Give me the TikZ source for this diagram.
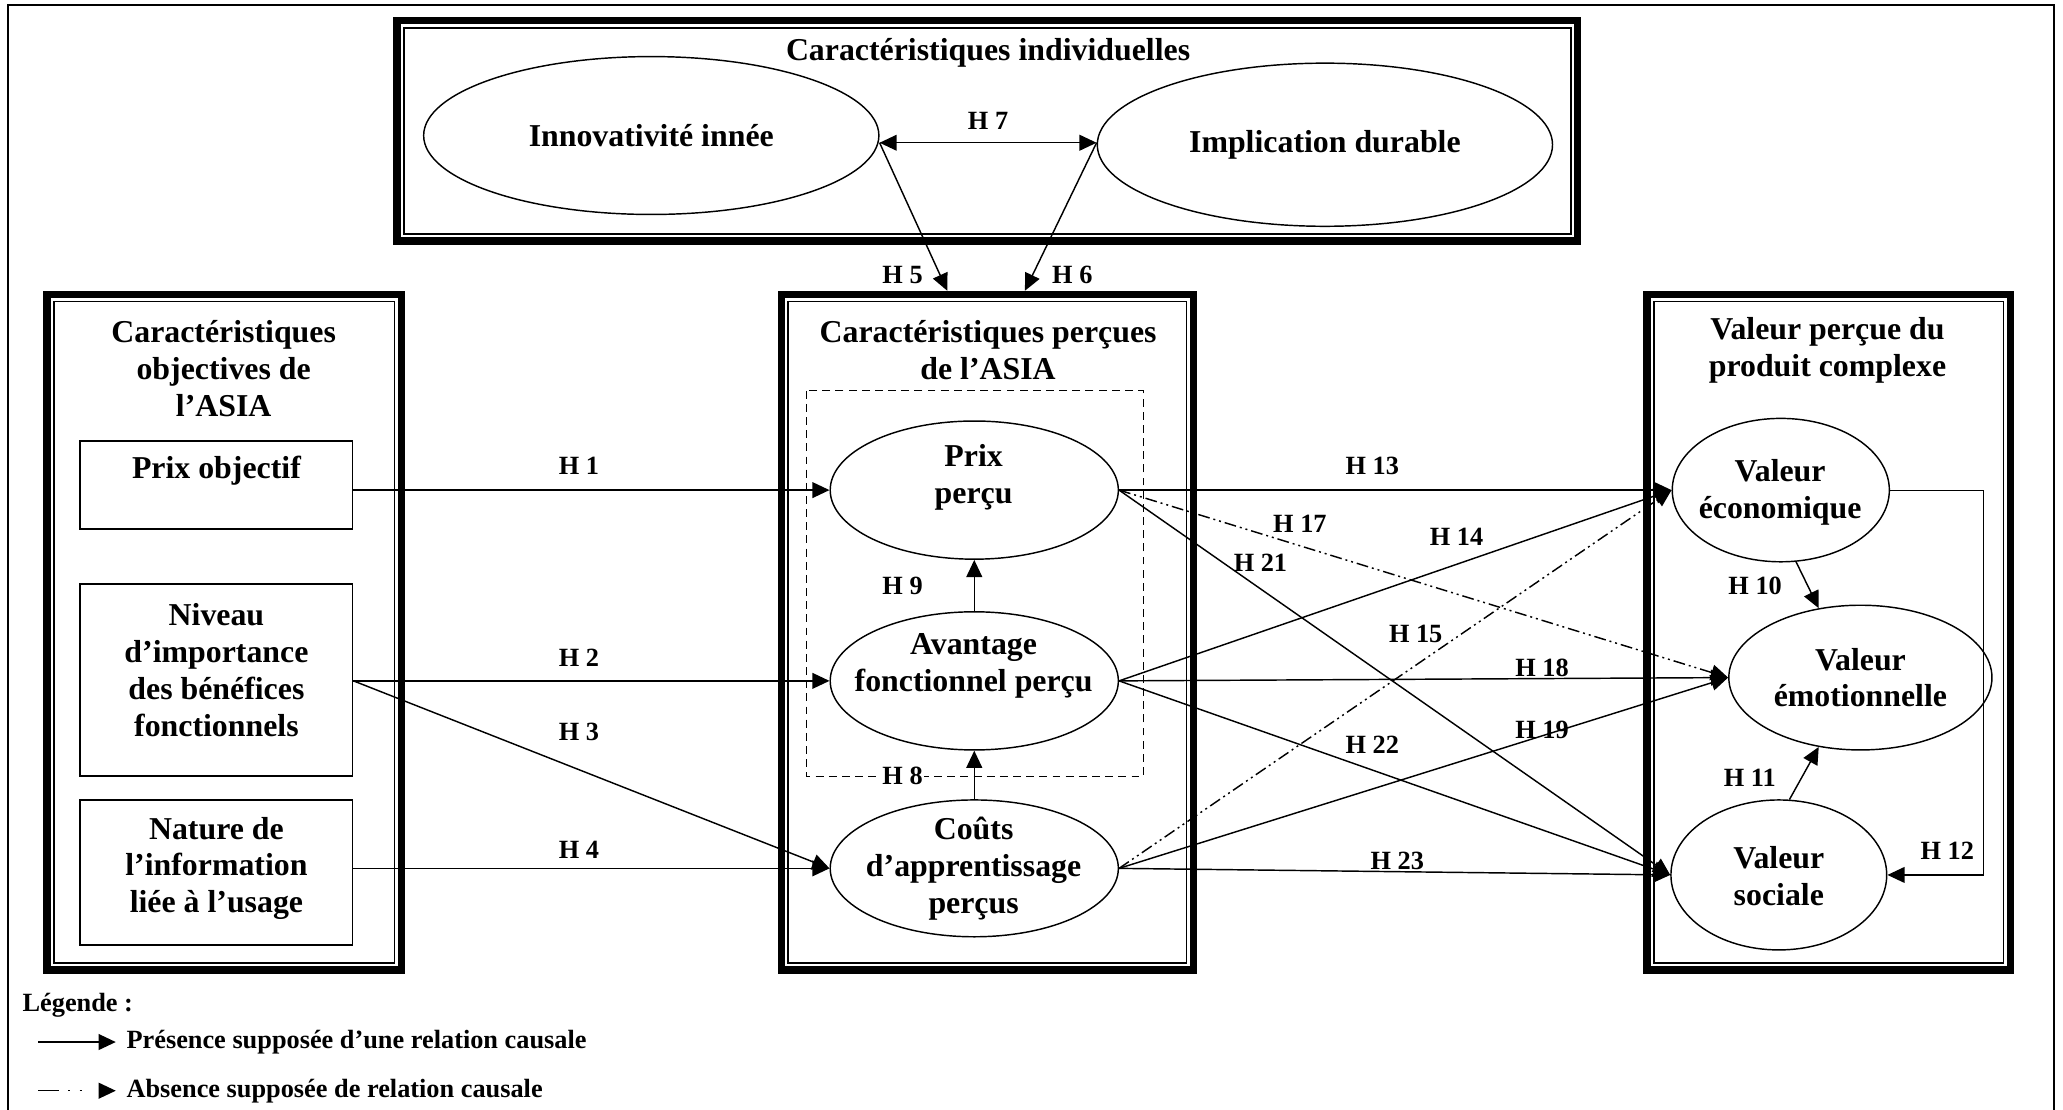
\documentclass[tikz,border=0pt]{standalone}
\usepackage{fontspec}
\setmainfont{Liberation Serif}
\usetikzlibrary{arrows.meta,shapes.geometric,calc}
\newcommand\DblFrame[4]{%
  \draw[line width=5.5pt] ($(#1,#2)+(2.75,2.75)$) rectangle ($(#3,#4)+(-2.75,-2.75)$);
  \draw[line width=1.2pt] ($(#1,#2)+(8.1,8.1)$) rectangle ($(#3,#4)+(-8.1,-8.1)$);}
\tikzset{
  ell/.style={draw, ellipse, line width=1.1pt, inner sep=0pt},
  txt/.style={font=\bfseries\fontsize{24.2}{28}\selectfont, align=center, inner sep=0pt},
  hl/.style={font=\bfseries\fontsize{20}{24}\selectfont, inner sep=1pt},
  arr/.style={-{Triangle[length=13pt,width=12pt]}, line width=1.1pt},
  noarr/.style={arr, dash pattern=on 9pt off 3pt on 1.5pt off 3pt on 1.5pt off 3pt},
  ibox/.style={draw, line width=1.3pt, inner sep=0pt},
}
\begin{document}
\begin{tikzpicture}[x=1pt,y=-1pt]
\useasboundingbox (0,0) rectangle (1568,843);
% outer frame (open at bottom)
\draw[line width=1.5pt] (6,850) -- (6,3.8) -- (1561,3.8) -- (1561,850);

% ---------- top box ----------
\DblFrame{299}{13}{1202}{186}
\node[txt] (ttop) at (751,40) {Caractéristiques individuelles};
\node[ell, minimum width=346pt, minimum height=120pt] (innov) at (495,103) {};
\node[txt] (innovt) at (495,103) {Innovativité innée};
\node[ell, minimum width=346pt, minimum height=124pt] (impl) at (1007,110) {};
\node[txt] (implt) at (1007,110) {Implication durable};

% ---------- left box ----------
\DblFrame{33}{221}{308}{740}
\node[txt] (tleft) at (170,280) {Caractéristiques\\objectives de\\l’ASIA};
\node[ibox, minimum width=207pt, minimum height=67pt] (pobj) at (164.5,368.5) {};
\node[txt] (pobjt) at (164.5,358) {Prix objectif};
\node[ibox, minimum width=207pt, minimum height=146pt] (niv) at (164.5,517) {};
\node[txt] (nivt) at (164.5,509.5) {Niveau\\d’importance\\des bénéfices\\fonctionnels};
\node[ibox, minimum width=207pt, minimum height=110pt] (nat) at (164.5,663) {};
\node[txt] (natt) at (164.5,660) {Nature de\\l’information\\liée à l’usage};

% ---------- middle box ----------
\DblFrame{591}{221}{910}{740}
\node[txt] (tmid) at (751,266) {Caractéristiques perçues\\de l’ASIA};
\draw[line width=1pt, dash pattern=on 6pt off 4pt] (613,297) rectangle (869,590);
\node[ell, minimum width=219pt, minimum height=105pt] (pp) at (740.5,372.5) {};
\node[txt] (ppt) at (740,363) {Prix\\perçu};
\node[ell, minimum width=219pt, minimum height=105pt] (av) at (740.5,517.5) {};
\node[txt] (avt) at (740,506) {Avantage\\fonctionnel perçu};
\node[ell, minimum width=219pt, minimum height=104pt] (co) at (740.5,660) {};
\node[txt] (cot) at (740,660) {Coûts\\d’apprentissage\\perçus};

% ---------- right box ----------
\DblFrame{1249}{221}{1531}{740}
\node[txt] (tright) at (1389,266.5) {Valeur perçue du\\produit complexe};
\node[ell, minimum width=165pt, minimum height=109pt] (eco) at (1353.5,372.5) {};
\node[txt] (ecot) at (1353,374.5) {Valeur\\économique};
\node[ell, minimum width=200pt, minimum height=110pt] (emo) at (1414,515) {};
\node[txt] (emot) at (1414,515) {Valeur\\émotionnelle};
\node[ell, minimum width=164pt, minimum height=114pt] (soc) at (1352,665) {};
\node[txt] (soct) at (1352,666) {Valeur\\sociale};

% ---------- top connectors ----------
\coordinate (h7a) at ($(innov.east)+(0,5.5)$);
\coordinate (h7b) at (h7a -| impl.west);
\draw[line width=1.1pt, {Triangle[length=13pt,width=12pt]}-{Triangle[length=13pt,width=12pt]}] (h7a) -- (h7b);
\node[hl] (h7) at (751,92) {H 7};
\coordinate (h5e) at (720,221);
\coordinate (h6e) at (779,221);
\draw[arr] (h7a) -- (h5e);
\draw[arr] (h7b) -- (h6e);
\node[hl] (h5) at (686,209) {H 5};
\node[hl] (h6) at (815,209) {H 6};

% ---------- left to middle ----------
\draw[arr] (pobj.east |- pp.west) -- (pp.west);
\draw[arr] (niv.east |- av.west) -- (av.west);
\draw[arr] (niv.east |- av.west) -- (co.west);
\draw[arr] (nat.east |- co.west) -- (co.west);
\node[hl] (h1) at (440,354) {H 1};
\node[hl] (h2) at (440,500) {H 2};
\node[hl] (h3) at (440,556) {H 3};
\node[hl] (h4) at (440,646) {H 4};

% ---------- inside middle ----------
\draw[arr] (av.north) -- (pp.south);
\draw[arr] (co.north) -- (av.south);
\node[hl] (h9) at (686,445) {H 9};
\node[hl, fill=white] (h8) at (686,590) {H 8};

% ---------- middle to right ----------
\draw[arr] (pp.east) -- (eco.west);
\draw[noarr] (pp.east) -- (emo.west);
\draw[arr] (pp.east) -- (soc.west);
\draw[arr] (av.east) -- (eco.west);
\draw[arr] (av.east) -- (emo.west);
\draw[arr] (av.east) -- (soc.west);
\draw[noarr] (co.east) -- (eco.west);
\draw[arr] (co.east) -- (emo.west);
\draw[arr] (co.east) -- (soc.west);
\node[hl] (h13) at (1043,354) {H 13};
\node[hl] (h17) at (988,398) {H 17};
\node[hl] (h21) at (958,428) {H 21};
\node[hl] (h14) at (1107,408) {H 14};
\node[hl] (h15) at (1076,482) {H 15};
\node[hl] (h18) at (1172,508) {H 18};
\node[hl] (h22) at (1043,566) {H 22};
\node[hl] (h19) at (1172,555) {H 19};
\node[hl] (h23) at (1062,654) {H 23};

% ---------- inside right ----------
\draw[arr] (eco.-78) -- (emo.121);
\draw[arr] (soc.82) -- (emo.-121);
\draw[arr, line width=0.9pt] (eco.east) -- ++(71,0) |- (soc.east);
\node[hl] (h10) at (1334,445) {H 10};
\node[hl] (h11) at (1330,591) {H 11};
\node[hl] (h12) at (1480,647) {H 12};

% ---------- legend ----------
\node[hl, anchor=west] (leg) at (16,764) {Légende :};
\coordinate (l1s) at (29,792);
\coordinate (l1e) at (88,792);
\draw[arr] (l1s) -- (l1e);
\node[hl, anchor=west] (leg1) at (95,792) {Présence supposée d’une relation causale};
\coordinate (l2s) at (29,829);
\coordinate (l2e) at (88,829);
\draw[arr, dash pattern=on 16pt off 7pt on 1.5pt off 7pt on 1.5pt off 40pt] (l2s) -- (l2e);
\node[hl, anchor=west] (leg2) at (95,829) {Absence supposée de relation causale};
\end{tikzpicture}
\end{document}
